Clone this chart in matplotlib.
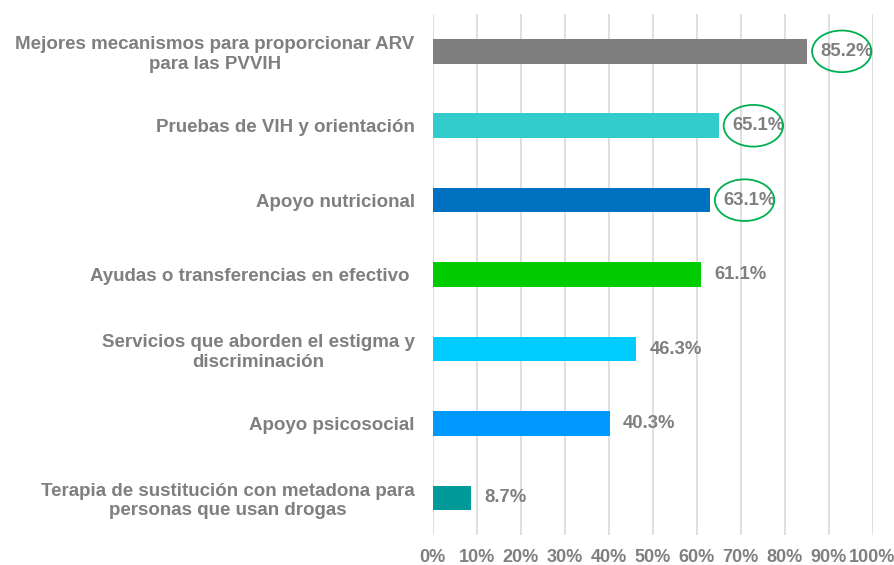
import matplotlib.pyplot as plt
from matplotlib.patches import Ellipse

# Data
categories = [
    'Mejores mecanismos para proporcionar ARV\npara las PVVIH',
    'Pruebas de VIH y orientación',
    'Apoyo nutricional',
    'Ayudas o transferencias en efectivo ',
    'Servicios que aborden el estigma y\ndiscriminación',
    'Apoyo psicosocial',
    'Terapia de sustitución con metadona para\npersonas que usan drogas',
]
values = [85.2, 65.1, 63.1, 61.1, 46.3, 40.3, 8.7]
colors = ['#7f7f7f', '#33cccc', '#0070c0', '#00cc00', '#00ccff', '#0099ff', '#009999']
circled = [0, 1, 2]  # labels highlighted with a green ellipse

plt.rcParams['font.family'] = ['Liberation Sans', 'DejaVu Sans']
text_color = '#7f7f7f'
fs = 13

fig = plt.figure(figsize=(8.94, 5.65), dpi=100)
ax = fig.add_axes([0.484, 0.053, 0.492, 0.922])

y = list(range(len(values)))
ax.barh(y, values, height=0.33, color=colors, zorder=3)
ax.set_ylim(len(values) - 0.5, -0.5)
ax.set_xlim(0, 100)

# value labels
for i, v in enumerate(values):
    ax.text(v + 3, i, f'{v:.1f}%', va='center', ha='left', fontsize=fs + 0.3,
            fontweight='bold', color=text_color, zorder=4)

for i in circled:
    ax.add_patch(Ellipse((values[i] + 7.8, i), 13.5, 0.56, fill=False,
                         edgecolor='#00b050', linewidth=1.3, zorder=5, clip_on=False))

ax.set_yticks(y)
ax.set_yticklabels(categories, fontsize=fs + 0.5, fontweight='bold', color=text_color,
                   linespacing=1.2)
plt.setp(ax.get_yticklabels(), multialignment='center')
ax.tick_params(axis='y', length=0, pad=13)

ax.set_xticks(range(0, 101, 10))
ax.set_xticklabels([f'{t}%' for t in range(0, 101, 10)], fontsize=fs,
                   fontweight='bold', color=text_color)
ax.tick_params(axis='x', length=0, pad=10)

ax.grid(axis='x', color='#d9d9d9', linewidth=1.2, zorder=0)
for s in ax.spines.values():
    s.set_visible(False)

fig.savefig('out.png', dpi=100)
